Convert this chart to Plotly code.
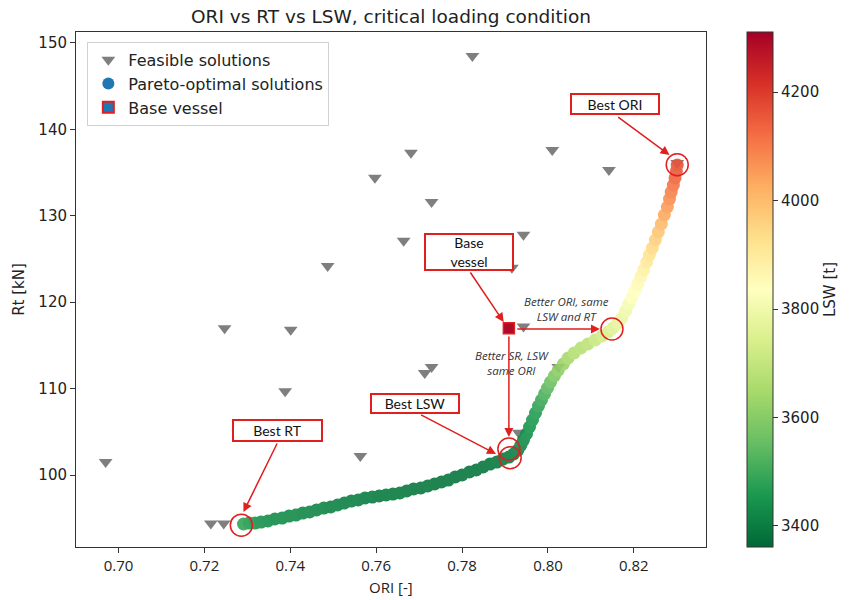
import plotly.graph_objects as go

# ---------------- data ----------------
feasible_ori = [0.6970, 0.7215, 0.7245, 0.7247, 0.7401, 0.7388, 0.7487, 0.7597, 0.7664, 0.7681,
                0.7729, 0.7563, 0.7713, 0.7729, 0.7805, 0.7824, 0.7943, 0.7916, 0.7943, 0.8010,
                0.8142, 0.8024, 0.7932, 0.8301]
feasible_rt = [101.5, 94.4, 94.4, 117.0, 116.8, 109.7, 124.2, 134.4, 127.1, 137.3,
               131.6, 102.2, 111.8, 112.5, 125.2, 148.5, 127.8, 124.0, 117.2, 137.6,
               135.3, 112.5, 104.9, 136.1]

pareto_ori = [0.7291, 0.7304, 0.7318, 0.7332, 0.7348, 0.7364, 0.7381, 0.7397, 0.7413, 0.7429,
              0.7445, 0.7461, 0.7478, 0.7494, 0.7510, 0.7526, 0.7542, 0.7558, 0.7574, 0.7591,
              0.7607, 0.7623, 0.7639, 0.7655, 0.7671, 0.7687, 0.7704, 0.7720, 0.7736, 0.7752,
              0.7768, 0.7784, 0.7800, 0.7817, 0.7833, 0.7849, 0.7865, 0.7881, 0.7895, 0.7909,
              0.7920, 0.7930, 0.7937, 0.7943, 0.7950, 0.7957, 0.7964, 0.7971, 0.7978, 0.7985,
              0.7992, 0.7999, 0.8006, 0.8015, 0.8024, 0.8036, 0.8047, 0.8061, 0.8077, 0.8093,
              0.8110, 0.8126, 0.8140, 0.8151, 0.8163, 0.8172, 0.8181, 0.8188, 0.8195, 0.8202,
              0.8209, 0.8216, 0.8223, 0.8230, 0.8236, 0.8243, 0.8250, 0.8257, 0.8264, 0.8271,
              0.8278, 0.8283, 0.8287, 0.8292, 0.8296, 0.8299, 0.8301]
pareto_rt = [94.33, 94.44, 94.44, 94.56, 94.68, 94.91, 95.02, 95.25, 95.37, 95.60,
             95.72, 95.95, 96.18, 96.30, 96.53, 96.76, 96.99, 97.11, 97.34, 97.45,
             97.57, 97.69, 97.80, 97.92, 98.15, 98.38, 98.50, 98.73, 98.96, 99.19,
             99.42, 99.77, 100.00, 100.35, 100.58, 100.93, 101.27, 101.50, 101.85, 102.08,
             102.43, 102.89, 103.47, 104.05, 104.75, 105.56, 106.37, 107.18, 107.99, 108.68,
             109.38, 110.07, 110.76, 111.46, 112.15, 112.85, 113.54, 114.12, 114.70, 115.16,
             115.63, 116.09, 116.55, 117.01, 117.59, 118.17, 118.98, 119.79, 120.49, 121.30,
             122.11, 122.92, 123.73, 124.65, 125.46, 126.27, 127.20, 128.13, 129.05, 130.09,
             131.02, 131.94, 132.75, 133.56, 134.38, 135.19, 135.88]
pareto_lsw = [3490, 3470, 3455, 3445, 3440, 3435, 3435, 3430, 3430, 3425,
              3425, 3420, 3420, 3415, 3415, 3410, 3410, 3410, 3405, 3405,
              3400, 3400, 3400, 3400, 3395, 3395, 3395, 3395, 3390, 3390,
              3390, 3390, 3390, 3390, 3390, 3390, 3390, 3395, 3395, 3400,
              3405, 3410, 3420, 3430, 3440, 3450, 3460, 3470, 3485, 3500,
              3520, 3540, 3560, 3590, 3610, 3630, 3650, 3670, 3680, 3690,
              3710, 3730, 3745, 3760, 3775, 3790, 3800, 3810, 3830, 3840,
              3850, 3860, 3880, 3900, 3920, 3940, 3960, 3980, 4000, 4030,
              4050, 4070, 4090, 4110, 4130, 4150, 4160]

base_ori = [0.7909]
base_rt = [117.0]
base_lsw = [4290]

# highlighted solutions (red circles)
circle_ori = [0.8301, 0.8149, 0.7909, 0.7912, 0.7286]
circle_rt = [135.9, 116.9, 103.0, 102.0, 94.2]

lsw_ticks = [3400, 3600, 3800, 4000, 4200]
ori_ticks = [0.70, 0.72, 0.74, 0.76, 0.78, 0.80, 0.82]
rt_ticks = [100, 110, 120, 130, 140, 150]

CMIN, CMAX = 3361, 4311
RED = "#e01f1f"

fig = go.Figure()

fig.add_trace(go.Scatter(
    x=feasible_ori, y=feasible_rt, mode="markers", name="Feasible solutions",
    marker=dict(symbol="triangle-down", size=12, color="#7f7f7f"),
    legendgroup="a"))

fig.add_trace(go.Scatter(
    x=pareto_ori, y=pareto_rt, mode="markers", showlegend=False,
    opacity=0.9,
    marker=dict(size=13, color=pareto_lsw, colorscale="RdYlGn_r", cmin=CMIN, cmax=CMAX,
                line=dict(width=0),
                colorbar=dict(
                    title=dict(text="LSW [t]", side="right",
                               font=dict(family="DejaVu Sans", size=15, color="#222")),
                    x=1.0645, xanchor="left", y=0.5, yanchor="middle", xpad=0, ypad=0,
                    len=1.0, lenmode="fraction", thickness=26, thicknessmode="pixels",
                    outlinewidth=1, outlinecolor="#333",
                    tickvals=lsw_ticks, ticks="outside", ticklen=5, tickcolor="#333",
                    tickfont=dict(family="DejaVu Sans", size=15, color="#222")))))

fig.add_trace(go.Scatter(
    x=[None], y=[None], mode="markers", name="Pareto-optimal solutions",
    marker=dict(symbol="circle", size=12, color="#1f77b4"), legendgroup="b"))

fig.add_trace(go.Scatter(
    x=base_ori, y=base_rt, mode="markers", showlegend=False,
    marker=dict(symbol="square", size=11, color=base_lsw, colorscale="RdYlGn_r",
                cmin=CMIN, cmax=CMAX, line=dict(color=RED, width=1.5))))

fig.add_trace(go.Scatter(
    x=[None], y=[None], mode="markers", name="Base vessel",
    marker=dict(symbol="square", size=11, color="#1f77b4", line=dict(color=RED, width=2)),
    legendgroup="c"))

fig.add_trace(go.Scatter(
    x=circle_ori, y=circle_rt, mode="markers", showlegend=False,
    marker=dict(symbol="circle-open", size=22, color=RED, line=dict(width=1.5, color=RED))))

# ---------------- annotations ----------------
box_font = dict(family="Lato", size=14, color="#111")
boxes = [
    ("Best ORI", 0.8156, 142.94, 84, 16),
    ("Base<br>vessel", 0.7817, 125.81, 84, 32),
    ("Best LSW", 0.7690, 108.33, 84, 15),
    ("Best RT", 0.7371, 105.21, 85, 17),
]
annotations = []
for text, bx, by, w, h in boxes:
    annotations.append(dict(x=bx, y=by, xref="x", yref="y", text=text, showarrow=False,
                            font=box_font, bgcolor="white", bordercolor=RED, borderwidth=2,
                            borderpad=1, width=w, height=h, align="center"))

arrows = [
    (0.8160, 141.55, 0.8283, 137.04),
    (0.7817, 123.61, 0.7897, 117.71),
    (0.7701, 107.06, 0.7879, 102.43),
    (0.7371, 103.82, 0.7291, 95.72),
    (0.7909, 116.20, 0.7909, 104.40),
    (0.7925, 116.90, 0.8121, 116.90),
]
for tx, ty, hx, hy in arrows:
    annotations.append(dict(x=hx, y=hy, ax=tx, ay=ty, xref="x", yref="y", axref="x", ayref="y",
                            text="", showarrow=True, arrowhead=2, arrowsize=1.2, arrowwidth=1.5,
                            arrowcolor=RED, standoff=0, startstandoff=0))

ital = dict(family="Open Sans", size=11.5, color="#333", style="italic")
annotations.append(dict(x=0.8043, y=119.21, xref="x", yref="y", text="Better ORI, same<br>LSW and RT",
                        showarrow=False, font=ital, align="center"))
annotations.append(dict(x=0.7916, y=112.96, xref="x", yref="y", text="Better SR, LSW<br>same ORI",
                        showarrow=False, font=ital, align="center"))

# x-axis title as an annotation placed just under the tick labels
annotations.append(dict(x=0.5, y=-(587 - 547) / 515, xref="paper", yref="paper",
                        text="ORI [-]", showarrow=False, yanchor="middle",
                        font=dict(family="Open Sans", size=15, color="#222")))

axis_common = dict(showline=True, linecolor="#333", linewidth=1, mirror=True, ticks="outside",
                   ticklen=5, tickcolor="#333", showgrid=False, zeroline=False, automargin=False)

fig.update_layout(
    width=851, height=600,
    margin=dict(l=76, r=139, t=32, b=53),
    paper_bgcolor="white", plot_bgcolor="white",
    title=dict(text="ORI vs RT vs LSW, critical loading condition", x=0.5, xref="paper",
               y=1 - 17 / 600, yref="container", yanchor="middle", xanchor="center",
               font=dict(family="DejaVu Sans", size=18.5, color="#222")),
    xaxis=dict(range=[0.6901, 0.8368], tickvals=ori_ticks, tickformat=".2f",
               tickfont=dict(family="Open Sans", size=15, color="#222"), **axis_common),
    yaxis=dict(range=[91.67, 151.27], tickvals=rt_ticks,
               tickfont=dict(family="DejaVu Sans", size=15, color="#222"),
               title=dict(text="Rt [kN]", font=dict(family="DejaVu Sans", size=15, color="#222"),
                          standoff=10), **axis_common),
    legend=dict(x=0.018, y=0.981, xanchor="left", yanchor="top", bgcolor="white",
                bordercolor="#d0d0d0", borderwidth=1, tracegroupgap=0,
                font=dict(family="DejaVu Sans", size=16, color="#222")),
    annotations=annotations,
)

fig.write_html("out.html", config={"displayModeBar": False},
               post_script="document.body.style.margin='0';document.body.style.padding='0';")
